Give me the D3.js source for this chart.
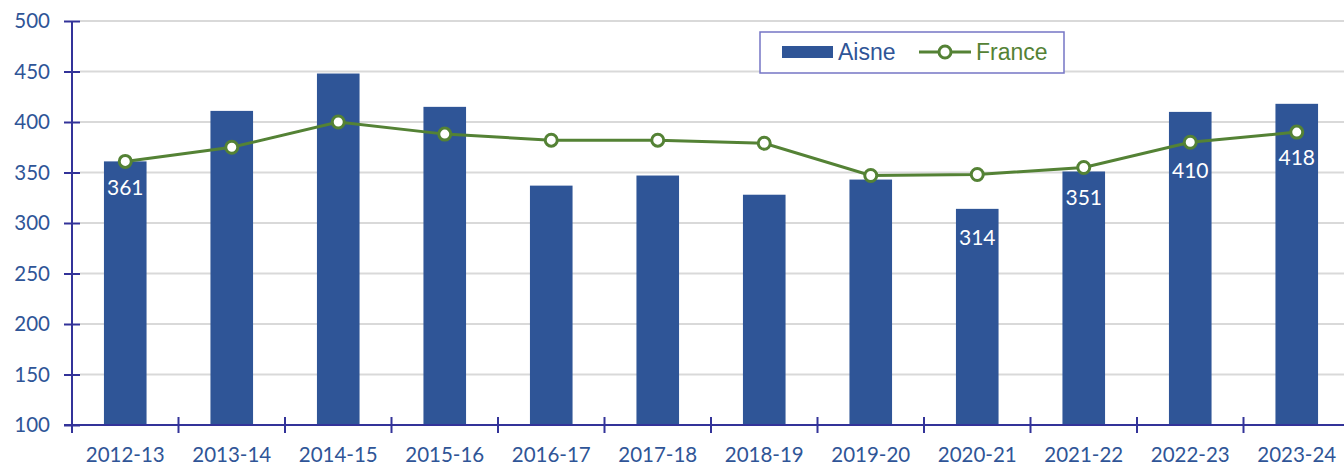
<!DOCTYPE html>
<html>
<head>
<meta charset="utf-8">
<script src="https://cdn.jsdelivr.net/npm/d3@7"></script>
<style>
  body { margin: 0; background: #fff; }
  svg { display: block; }
</style>
</head>
<body>
<svg id="chart" width="1344" height="465"></svg>
<script>
// data
var seasons = ["2012-13", "2013-14", "2014-15", "2015-16", "2016-17", "2017-18",
               "2018-19", "2019-20", "2020-21", "2021-22", "2022-23", "2023-24"]
var aisne  = [361, 411, 448, 415, 337, 347, 328, 343, 314, 351, 410, 418]
var france = [361, 375, 400, 388, 382, 382, 379, 347, 348, 355, 380, 390]
var labelled = ["2012-13", "2020-21", "2021-22", "2022-23", "2023-24"]
var yTicks = [100, 150, 200, 250, 300, 350, 400, 450, 500]

// label offset below bar top (px), chosen so labels clear the markers
var labelDrop = {"2012-13": 27, "2020-21": 29, "2021-22": 27, "2022-23": 59, "2023-24": 54}

var blue = "#2F5597", green = "#548235", axisCol = "#333399"
var mLeft = 72, mRight = 1350, mTop = 21, mBottom = 425
var tickFont = "Lato, 'Open Sans', sans-serif"

var svg = d3.select("#chart")

var x = d3.scaleBand().domain(seasons).range([mLeft, mRight])
var y = d3.scaleLinear().domain([100, 500]).range([mBottom, mTop])

// gridlines
svg.append("g").selectAll("line")
  .data(yTicks.slice(1))
  .enter().append("line")
    .attr("x1", mLeft + 8).attr("x2", 1344)
    .attr("y1", d => y(d)).attr("y2", d => y(d))
    .attr("stroke", "#D9D9D9").attr("stroke-width", 2)

// bars
var bw = x.bandwidth() * 0.4
svg.append("g").selectAll("rect")
  .data(seasons)
  .enter().append("rect")
    .attr("x", d => x(d) + x.bandwidth() / 2 - bw / 2)
    .attr("width", bw)
    .attr("y", (d, i) => y(aisne[i]))
    .attr("height", (d, i) => y(100) - y(aisne[i]))
    .attr("fill", blue)

// y axis
var yAxis = svg.append("g")
  .attr("transform", "translate(" + mLeft + ",0)")
  .call(d3.axisLeft(y).tickValues(yTicks).tickSize(8).tickPadding(14))
yAxis.select(".domain").attr("stroke", axisCol).attr("stroke-width", 2).attr("d", "M0," + mTop + "V" + mBottom)
yAxis.selectAll(".tick line").attr("stroke", axisCol).attr("stroke-width", 2).attr("x1", 8)
yAxis.selectAll("text").attr("fill", blue).style("font-family", tickFont).style("font-size", "20.5px")

// x axis
var xAxis = svg.append("g")
xAxis.append("line")
  .attr("x1", mLeft - 8).attr("x2", 1344)
  .attr("y1", mBottom).attr("y2", mBottom)
  .attr("stroke", axisCol).attr("stroke-width", 2)
xAxis.selectAll(".xt")
  .data(seasons)
  .enter().append("line")
    .attr("x1", d => x(d)).attr("x2", d => x(d))
    .attr("y1", mBottom - 8).attr("y2", mBottom + 8)
    .attr("stroke", axisCol).attr("stroke-width", 2)
xAxis.selectAll("text")
  .data(seasons)
  .enter().append("text")
    .attr("x", d => x(d) + x.bandwidth() / 2)
    .attr("y", 462)
    .attr("text-anchor", "middle")
    .attr("fill", blue)
    .style("font-family", tickFont)
    .style("font-size", "20.5px")
    .text(d => d)

// France line
var line = d3.line()
  .x((d, i) => x(seasons[i]) + x.bandwidth() / 2)
  .y(d => y(d))
svg.append("path")
  .datum(france)
  .attr("d", line)
  .attr("fill", "none")
  .attr("stroke", green)
  .attr("stroke-width", 3)
svg.append("g").selectAll("circle")
  .data(france)
  .enter().append("circle")
    .attr("cx", (d, i) => x(seasons[i]) + x.bandwidth() / 2)
    .attr("cy", d => y(d))
    .attr("r", 6)
    .attr("fill", "#fff")
    .attr("stroke", green)
    .attr("stroke-width", 3)

// value labels
svg.append("g").selectAll("text")
  .data(labelled)
  .enter().append("text")
    .attr("x", d => x(d) + x.bandwidth() / 2)
    .attr("y", d => y(aisne[seasons.indexOf(d)]) + labelDrop[d] + 7)
    .attr("text-anchor", "middle")
    .attr("fill", "#fff")
    .style("font-family", tickFont)
    .style("font-size", "21px")
    .text(d => aisne[seasons.indexOf(d)])

// legend
var lg = svg.append("g")
lg.append("rect")
  .attr("x", 760).attr("y", 32).attr("width", 304).attr("height", 41)
  .attr("fill", "#fff").attr("stroke", "#7575C5").attr("stroke-width", 1.5)
lg.append("rect")
  .attr("x", 782).attr("y", 46).attr("width", 51).attr("height", 12)
  .attr("fill", blue)
lg.append("text")
  .attr("x", 838).attr("y", 60)
  .attr("fill", blue)
  .style("font-family", "'Liberation Sans', Arial, sans-serif")
  .style("font-size", "23px")
  .text("Aisne")
lg.append("line")
  .attr("x1", 919).attr("x2", 971).attr("y1", 52).attr("y2", 52)
  .attr("stroke", green).attr("stroke-width", 3)
lg.append("circle")
  .attr("cx", 945).attr("cy", 52).attr("r", 6)
  .attr("fill", "#fff").attr("stroke", green).attr("stroke-width", 3)
lg.append("text")
  .attr("x", 976).attr("y", 60)
  .attr("fill", green)
  .style("font-family", "'Liberation Sans', Arial, sans-serif")
  .style("font-size", "23px")
  .text("France")
</script>
</body>
</html>
